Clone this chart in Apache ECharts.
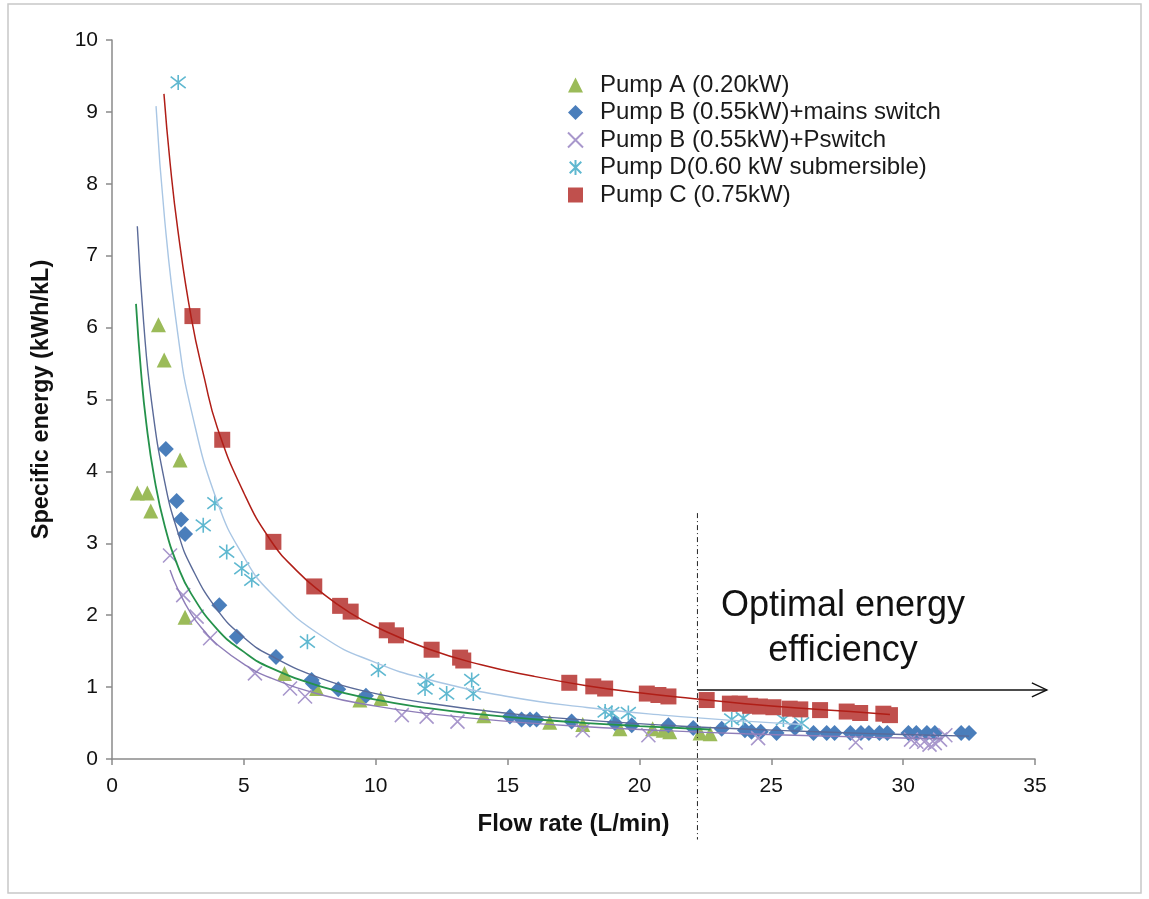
<!DOCTYPE html>
<html><head><meta charset="utf-8">
<script src="https://cdn.jsdelivr.net/npm/echarts@6/dist/echarts.min.js"></script>
<style>html,body{margin:0;padding:0;background:#fff}#c{width:1149px;height:899px}</style>
</head><body><div id="c"></div>
<script>
// ---- data (flow rate L/min, specific energy kWh/kL) ----
const pumpA = [[0.96,3.70],[1.34,3.70],[1.47,3.45],[1.76,6.04],[1.98,5.55],[2.58,4.16],[2.77,1.97],[6.54,1.19],[7.76,0.98],[9.4,0.82],[10.19,0.84],[14.1,0.60],[16.6,0.51],[17.85,0.48],[19.26,0.42],[20.5,0.42],[20.9,0.40],[21.15,0.38],[22.3,0.36],[22.68,0.35]];
const pumpBMains = [[2.04,4.31],[2.45,3.59],[2.62,3.33],[2.77,3.13],[4.07,2.14],[4.73,1.70],[6.22,1.42],[7.57,1.10],[7.62,1.05],[8.58,0.97],[9.63,0.88],[15.09,0.59],[15.53,0.55],[15.85,0.55],[16.1,0.55],[17.43,0.52],[19.07,0.50],[19.71,0.47],[21.1,0.47],[22.04,0.43],[23.12,0.42],[24.0,0.40],[24.25,0.38],[24.6,0.38],[25.2,0.36],[25.9,0.43],[26.6,0.36],[27.1,0.36],[27.4,0.36],[28.0,0.36],[28.4,0.36],[28.7,0.36],[29.1,0.36],[29.4,0.36],[30.2,0.36],[30.5,0.36],[30.9,0.36],[31.2,0.36],[32.2,0.36],[32.5,0.36]];
const pumpBPswitch = [[2.2,2.83],[2.7,2.28],[3.21,1.98],[3.72,1.68],[5.42,1.19],[6.75,0.98],[7.32,0.87],[10.99,0.61],[11.93,0.59],[13.1,0.52],[17.85,0.40],[20.34,0.33],[24.5,0.29],[28.2,0.23],[30.3,0.27],[30.5,0.24],[30.8,0.24],[31.0,0.20],[31.2,0.22],[31.4,0.27],[31.6,0.33]];
const pumpD = [[2.51,9.41],[3.46,3.25],[3.9,3.56],[4.35,2.88],[4.92,2.65],[5.3,2.49],[7.41,1.63],[10.1,1.24],[11.87,0.98],[11.93,1.10],[12.69,0.91],[13.64,1.10],[13.7,0.91],[18.7,0.66],[18.95,0.64],[19.58,0.64],[23.5,0.55],[23.94,0.57],[25.46,0.55],[26.15,0.50]];
const pumpC = [[3.05,6.16],[4.18,4.44],[6.12,3.02],[7.67,2.40],[8.65,2.13],[9.05,2.05],[10.42,1.79],[10.77,1.72],[12.12,1.52],[13.2,1.41],[13.32,1.37],[17.34,1.06],[18.25,1.01],[18.7,0.98],[20.28,0.91],[20.72,0.89],[21.1,0.87],[22.55,0.82],[23.43,0.77],[23.8,0.77],[24.2,0.74],[24.57,0.73],[25.08,0.72],[25.7,0.70],[26.1,0.69],[26.85,0.68],[27.86,0.66],[28.37,0.64],[29.25,0.63],[29.5,0.61]];

// trend lines
const trendA = [[0.91,6.33],[1.1,5.39],[1.3,4.67],[1.6,3.92],[2,3.24],[2.5,2.68],[3,2.30],[4,1.80],[5,1.49],[6,1.27],[8,1.0],[10,0.825],[12,0.707],[14,0.62],[16,0.553],[18,0.50],[20,0.458],[22.7,0.41]];
const trendBMains = [[0.96,7.41],[1.2,6.07],[1.5,4.97],[2,3.85],[2.5,3.15],[3,2.68],[4,2.07],[5,1.69],[6,1.44],[8,1.11],[10,0.91],[12,0.775],[15,0.635],[18,0.54],[21,0.47],[24,0.417],[27,0.375],[30,0.341],[32.5,0.318]];
const trendBPswitch = [[2.2,2.63],[2.5,2.36],[3,2.02],[3.5,1.78],[4,1.59],[5,1.32],[6,1.13],[8,0.887],[10,0.735],[12,0.631],[15,0.523],[18,0.449],[21,0.394],[24,0.352],[27,0.319],[30,0.292],[31.5,0.28]];
const trendD = [[1.67,9.08],[2,7.49],[2.5,5.90],[3,4.86],[4,3.57],[5,2.81],[6,2.32],[8,1.70],[10,1.34],[12,1.105],[15,0.87],[18,0.716],[21,0.607],[24,0.527],[26.2,0.48]];
const trendC = [[1.97,9.25],[2.2,8.3],[2.5,7.35],[3,6.15],[3.5,5.3],[4,4.6],[5,3.7],[6,3.05],[7,2.62],[8,2.3],[9,2.04],[10,1.84],[12,1.53],[14,1.31],[16,1.15],[18,1.02],[20,0.92],[22,0.84],[24,0.77],[26,0.71],[28,0.66],[29.5,0.62]];

const names = ['Pump A (0.20kW)','Pump B (0.55kW)+mains switch','Pump B (0.55kW)+Pswitch','Pump D(0.60 kW submersible)','Pump C (0.75kW)'];
const optimalFlow = 22.2;          // dashed divider x position
const dividerRange = [3.42, -1.12];
const arrowLevel = 0.96;
const arrowEnd = 35.45;
const annotation = 'Optimal energy\nefficiency';

const X_PATH = 'path://M0,0L10,10M10,0L0,10';
const STAR_PATH = 'path://M0,0L10,10M10,0L0,10M5,-1.5L5,11.5';

const FONT = "'Liberation Sans', Arial, sans-serif";

function trend(data, color, width) {
  return {type:'line', data, smooth:true, showSymbol:false, symbol:'none', silent:true, z:5,
    lineStyle:{color, width: width||1.3}};
}

const chart = echarts.init(document.getElementById('c'));
chart.setOption({
  animation:false,
  backgroundColor:'#fff',
  grid:{left:112, right:114, top:40, bottom:140},
  legend:{
    data:names, orient:'vertical', left:562, top:68, itemWidth:15, itemHeight:15, itemGap:3.5,
    textStyle:{fontFamily:FONT, fontSize:24, color:'#1a1a1a', padding:[0,0,0,12], lineHeight:22}
  },
  xAxis:{type:'value', min:0, max:35, interval:5,
    name:'Flow rate (L/min)', nameLocation:'middle', nameGap:53,
    nameTextStyle:{fontFamily:FONT, fontWeight:'bold', fontSize:24, color:'#111'},
    axisLine:{lineStyle:{color:'#8a8a8a', width:1.5}},
    axisTick:{show:true, length:6, lineStyle:{color:'#8a8a8a', width:1.5}},
    axisLabel:{fontFamily:FONT, fontSize:21, color:'#111', margin:17},
    splitLine:{show:false}},
  yAxis:{type:'value', min:0, max:10, interval:1,
    name:'Specific energy (kWh/kL)', nameLocation:'middle', nameGap:58, nameRotate:90,
    nameTextStyle:{fontFamily:FONT, fontWeight:'bold', fontSize:23.5, color:'#111'},
    axisLine:{show:true, lineStyle:{color:'#8a8a8a', width:1.5}},
    axisTick:{show:true, length:6, lineStyle:{color:'#8a8a8a', width:1.5}},
    axisLabel:{fontFamily:FONT, fontSize:21, color:'#111', margin:14},
    splitLine:{show:false}},
  series:[
    {name:names[0], type:'scatter', data:pumpA, symbol:'triangle', symbolSize:15, z:2,
      itemStyle:{color:'#9BBB59', opacity:1}},
    {name:names[1], type:'scatter', data:pumpBMains, symbol:'diamond', symbolSize:16, z:2,
      itemStyle:{color:'#4A7EBB', opacity:1}},
    {name:names[2], type:'scatter', data:pumpBPswitch, symbol:X_PATH, symbolSize:14, z:2,
      itemStyle:{color:'rgba(0,0,0,0)', borderColor:'#A897CC', borderWidth:1.6, opacity:1}},
    {name:names[3], type:'scatter', data:pumpD, symbol:STAR_PATH, symbolSize:15, z:2,
      itemStyle:{color:'rgba(0,0,0,0)', borderColor:'#5FB8D0', borderWidth:1.6, opacity:1}},
    {name:names[4], type:'scatter', data:pumpC, symbol:'rect', symbolSize:16, z:2,
      itemStyle:{color:'#C0504D', opacity:1}},
    trend(trendA, '#25924B', 1.8),
    trend(trendBMains, '#5A6A98', 1.4),
    trend(trendBPswitch, '#8E7DB8', 1.4),
    trend(trendD, '#A9C6E4', 1.4),
    trend(trendC, '#B01E17', 1.5)
  ]
});

// annotations positioned through the chart's own scales
const toPx = (p) => chart.convertToPixel({gridIndex:0}, p);
const dTop = toPx([optimalFlow, dividerRange[0]]);
const dBot = toPx([optimalFlow, dividerRange[1]]);
const aStart = toPx([optimalFlow, arrowLevel]);
const aEnd = toPx([arrowEnd, arrowLevel]);
chart.setOption({
  graphic:[
    {type:'rect', shape:{x:8, y:4, width:1133, height:889}, style:{fill:'none', stroke:'#c8c8c8', lineWidth:1.5}, z:-1, silent:true},
    {type:'line', shape:{x1:dTop[0], y1:dTop[1], x2:dBot[0], y2:dBot[1]},
      style:{stroke:'#222', lineWidth:1, lineDash:[5,3,1,3]}, z:10, silent:true},
    {type:'line', shape:{x1:aStart[0], y1:aStart[1], x2:aEnd[0], y2:aEnd[1]},
      style:{stroke:'#111', lineWidth:1.4}, z:10, silent:true},
    {type:'polyline', shape:{points:[[aEnd[0]-15, aEnd[1]-7],[aEnd[0], aEnd[1]],[aEnd[0]-15, aEnd[1]+7]]},
      style:{stroke:'#111', lineWidth:1.4, fill:'none'}, z:10, silent:true},
    {type:'text', x:843, y:584, style:{text:annotation, fontFamily:FONT, fontSize:36, fill:'#111', align:'center', verticalAlign:'top', lineHeight:45}, silent:true}
  ]
});
</script></body></html>
